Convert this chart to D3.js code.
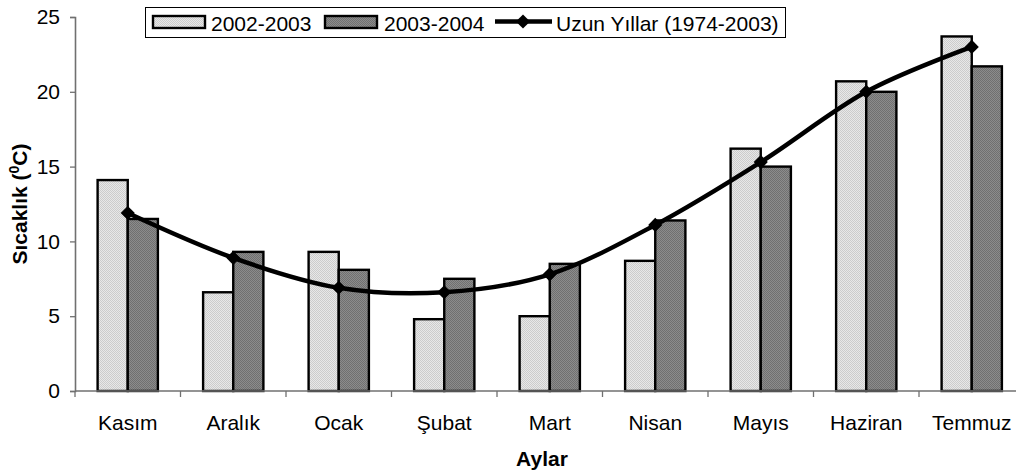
<!DOCTYPE html>
<html><head><meta charset="utf-8">
<script src="https://cdn.jsdelivr.net/npm/d3@7"></script>
<style>
html,body{margin:0;padding:0;background:#fff;}
svg{display:block;font-family:"Liberation Sans",Arial,sans-serif;}
</style></head>
<body>
<script>
const categories = ["Kasım","Aralık","Ocak","Şubat","Mart","Nisan","Mayıs","Haziran","Temmuz"];
const series1Name = "2002-2003";
const series1 = [14.1, 6.6, 9.3, 4.8, 5.0, 8.7, 16.2, 20.7, 23.7];
const series2Name = "2003-2004";
const series2 = [11.5, 9.3, 8.1, 7.5, 8.5, 11.4, 15.0, 20.0, 21.7];
const lineName = "Uzun Yıllar (1974-2003)";
const lineValues = [11.9, 8.9, 6.9, 6.6, 7.8, 11.1, 15.3, 20.0, 23.0];
const yTicks = [0, 5, 10, 15, 20, 25];

const W = 1016, H = 475, FS = 21;
const svg = d3.select("body").append("svg").attr("width", W).attr("height", H);

const defs = svg.append("defs");
function pat(id, bg, fg){
  const p = defs.append("pattern").attr("id", id).attr("width", 2).attr("height", 2)
    .attr("patternUnits", "userSpaceOnUse");
  p.append("rect").attr("width", 2).attr("height", 2).attr("fill", bg);
  p.append("rect").attr("x", 0).attr("y", 0).attr("width", 1).attr("height", 1).attr("fill", fg);
  p.append("rect").attr("x", 1).attr("y", 1).attr("width", 1).attr("height", 1).attr("fill", fg);
}
pat("p1", "#e8e8e8", "#cccccc");
pat("p2", "#8c8c8c", "#707070");

const x = d3.scaleBand().domain(categories).range([75, 1024.5]).padding(0);
const xi = d3.scaleBand().domain([0, 1]).range([0, x.bandwidth()]).paddingInner(0).paddingOuter(0.75);
const y = d3.scaleLinear().domain([0, 25]).range([391, 17]);

// bars
const groups = svg.append("g");
const seriesList = [{vals: series1, fill: "url(#p1)"}, {vals: series2, fill: "url(#p2)"}];
seriesList.forEach((s, si) => {
  groups.selectAll(null).data(categories).enter().append("rect")
    .attr("x", c => x(c) + xi(si))
    .attr("y", (c, i) => y(s.vals[i]))
    .attr("width", xi.bandwidth())
    .attr("height", (c, i) => y(0) - y(s.vals[i]))
    .attr("fill", s.fill)
    .attr("stroke", "#000").attr("stroke-width", 2.4);
});

// x axis
const axisColor = "#707070";
svg.append("line").attr("x1", 75).attr("x2", 1024.5).attr("y1", y(0)).attr("y2", y(0))
  .attr("stroke", axisColor).attr("stroke-width", 1.6);
const xt = categories.map(c => x(c)).concat([x.range()[1]]);
svg.append("g").selectAll("line").data(xt).enter().append("line")
  .attr("x1", d => d).attr("x2", d => d).attr("y1", y(0)).attr("y2", y(0) + 6)
  .attr("stroke", axisColor).attr("stroke-width", 1.3);
svg.append("g").selectAll("text").data(categories).enter().append("text")
  .attr("x", c => x(c) + x.bandwidth() / 2).attr("y", 429.5)
  .attr("text-anchor", "middle").attr("font-size", FS).attr("fill", "#000").text(c => c);

// y axis
const ya = svg.append("g").attr("transform", "translate(75,0)")
  .call(d3.axisLeft(y).tickValues(yTicks).tickSize(5).tickPadding(10).tickFormat(d3.format("d")));
ya.select(".domain").attr("stroke", axisColor).attr("stroke-width", 1.6);
ya.selectAll(".tick line").attr("stroke", axisColor).attr("stroke-width", 1.3);
ya.selectAll(".tick text").attr("font-size", FS).attr("fill", "#000")
  .attr("font-family", "'Liberation Sans',Arial,sans-serif");

// line
const cx = (i) => x(categories[i]) + x.bandwidth() / 2;
const lineGen = d3.line().x((d, i) => cx(i)).y(d => y(d))
  .curve(d3.curveCatmullRom.alpha(0));
svg.append("path").datum(lineValues).attr("d", lineGen)
  .attr("fill", "none").attr("stroke", "#000").attr("stroke-width", 4.5);
const marker = d3.symbol().type(d3.symbolSquare).size(100);
svg.append("g").selectAll("path").data(lineValues).enter().append("path")
  .attr("d", marker)
  .attr("transform", (d, i) => `translate(${cx(i)},${y(d)}) rotate(45)`)
  .attr("fill", "#000");

// axis titles
svg.append("text").attr("x", 542).attr("y", 466).attr("text-anchor", "middle")
  .attr("font-size", FS).attr("font-weight", "bold").text("Aylar");
const yt = svg.append("text").attr("transform", "translate(27,204) rotate(-90)")
  .attr("text-anchor", "middle").attr("font-size", FS).attr("font-weight", "bold");
yt.append("tspan").text("Sıcaklık (");
yt.append("tspan").attr("font-size", 14).attr("dy", -8).text("0");
yt.append("tspan").attr("dy", 8).text("C)");

// legend
const lg = svg.append("g");
lg.append("rect").attr("x", 145.5).attr("y", 7.5).attr("width", 640).attr("height", 30)
  .attr("fill", "#fff").attr("stroke", "#000").attr("stroke-width", 1);
lg.append("rect").attr("x", 153).attr("y", 16).attr("width", 52).attr("height", 12)
  .attr("fill", "url(#p1)").attr("stroke", "#000").attr("stroke-width", 2.4);
lg.append("text").attr("x", 211).attr("y", 30.5).attr("font-size", FS).text(series1Name);
lg.append("rect").attr("x", 325).attr("y", 16).attr("width", 52).attr("height", 12)
  .attr("fill", "url(#p2)").attr("stroke", "#000").attr("stroke-width", 2.4);
lg.append("text").attr("x", 384).attr("y", 30.5).attr("font-size", FS).text(series2Name);
lg.append("line").attr("x1", 495).attr("x2", 552).attr("y1", 21.5).attr("y2", 21.5)
  .attr("stroke", "#000").attr("stroke-width", 4.5);
lg.append("path").attr("d", marker).attr("transform", "translate(523,21.5) rotate(45)").attr("fill", "#000");
lg.append("text").attr("x", 556).attr("y", 30.5).attr("font-size", FS).text(lineName);
</script>
</body></html>
